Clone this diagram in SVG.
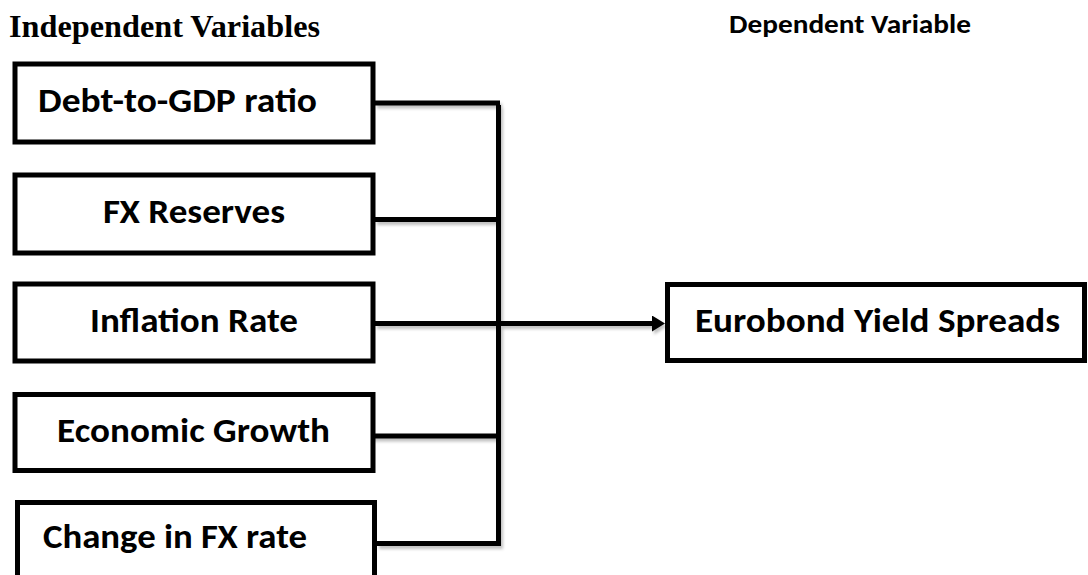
<svg xmlns="http://www.w3.org/2000/svg" width="1088" height="575" viewBox="0 0 1088 575">
<style>
.box{fill:#fff;stroke:#000;stroke-width:5}
.lbl{font-family:Carlito,Lato,"Open Sans",sans-serif;font-weight:bold;font-size:35px;fill:#000}
.hdr{font-family:"Liberation Serif","Times New Roman",serif;font-weight:bold;font-size:32px;fill:#000}
.hdr2{font-family:Carlito,Lato,"Open Sans",sans-serif;font-weight:bold;font-size:27px;fill:#000}
.ln{fill:none;stroke:#000;stroke-width:5}
</style>
<defs>
<filter id="sh" x="-10%" y="-10%" width="120%" height="130%">
<feDropShadow dx="2" dy="3" stdDeviation="1.5" flood-color="#000" flood-opacity="0.25"/>
</filter>
<marker id="arr" markerUnits="userSpaceOnUse" markerWidth="14" markerHeight="16" refX="0" refY="8" orient="auto">
<path d="M0,0 L13,8 L0,16 Z" fill="#000"/>
</marker>
</defs>
<rect width="1088" height="575" fill="#fff"/>
<text class="hdr" x="9" y="37" textLength="311" lengthAdjust="spacingAndGlyphs">Independent Variables</text>
<text class="hdr2" x="729" y="33" textLength="242" lengthAdjust="spacingAndGlyphs">Dependent Variable</text>
<g id="connectors" filter="url(#sh)">
<path class="ln" d="M375,103 H500"/>
<path class="ln" d="M498.5,105 V546"/>
<path class="ln" d="M375,219.5 H498"/>
<path class="ln" d="M375,323.5 H652" marker-end="url(#arr)"/>
<path class="ln" d="M370,436 H498"/>
<path class="ln" d="M377,543.5 H501"/>
</g>
<g id="n-debt">
<rect class="box" x="15" y="64" width="358" height="78"/>
<text class="lbl" x="38" y="112" textLength="279" lengthAdjust="spacingAndGlyphs">Debt-to-GDP ratio</text>
</g>
<g id="n-fxres">
<rect class="box" x="15" y="175" width="358" height="78"/>
<text class="lbl" x="103" y="223" textLength="182" lengthAdjust="spacingAndGlyphs">FX Reserves</text>
</g>
<g id="n-infl">
<rect class="box" x="15" y="284" width="358" height="77"/>
<text class="lbl" x="90" y="332" textLength="208" lengthAdjust="spacingAndGlyphs">Inflation Rate</text>
</g>
<g id="n-growth">
<rect class="box" x="15" y="394.5" width="358" height="76"/>
<text class="lbl" x="57" y="442" textLength="273" lengthAdjust="spacingAndGlyphs">Economic Growth</text>
</g>
<g id="n-fxrate">
<rect class="box" x="17.5" y="502.5" width="357" height="100"/>
<text class="lbl" x="43" y="548" textLength="264" lengthAdjust="spacingAndGlyphs">Change in FX rate</text>
</g>
<g id="n-spreads">
<rect class="box" x="667.5" y="284.5" width="417" height="76"/>
<text class="lbl" x="695" y="332" textLength="365" lengthAdjust="spacingAndGlyphs">Eurobond Yield Spreads</text>
</g>
</svg>
